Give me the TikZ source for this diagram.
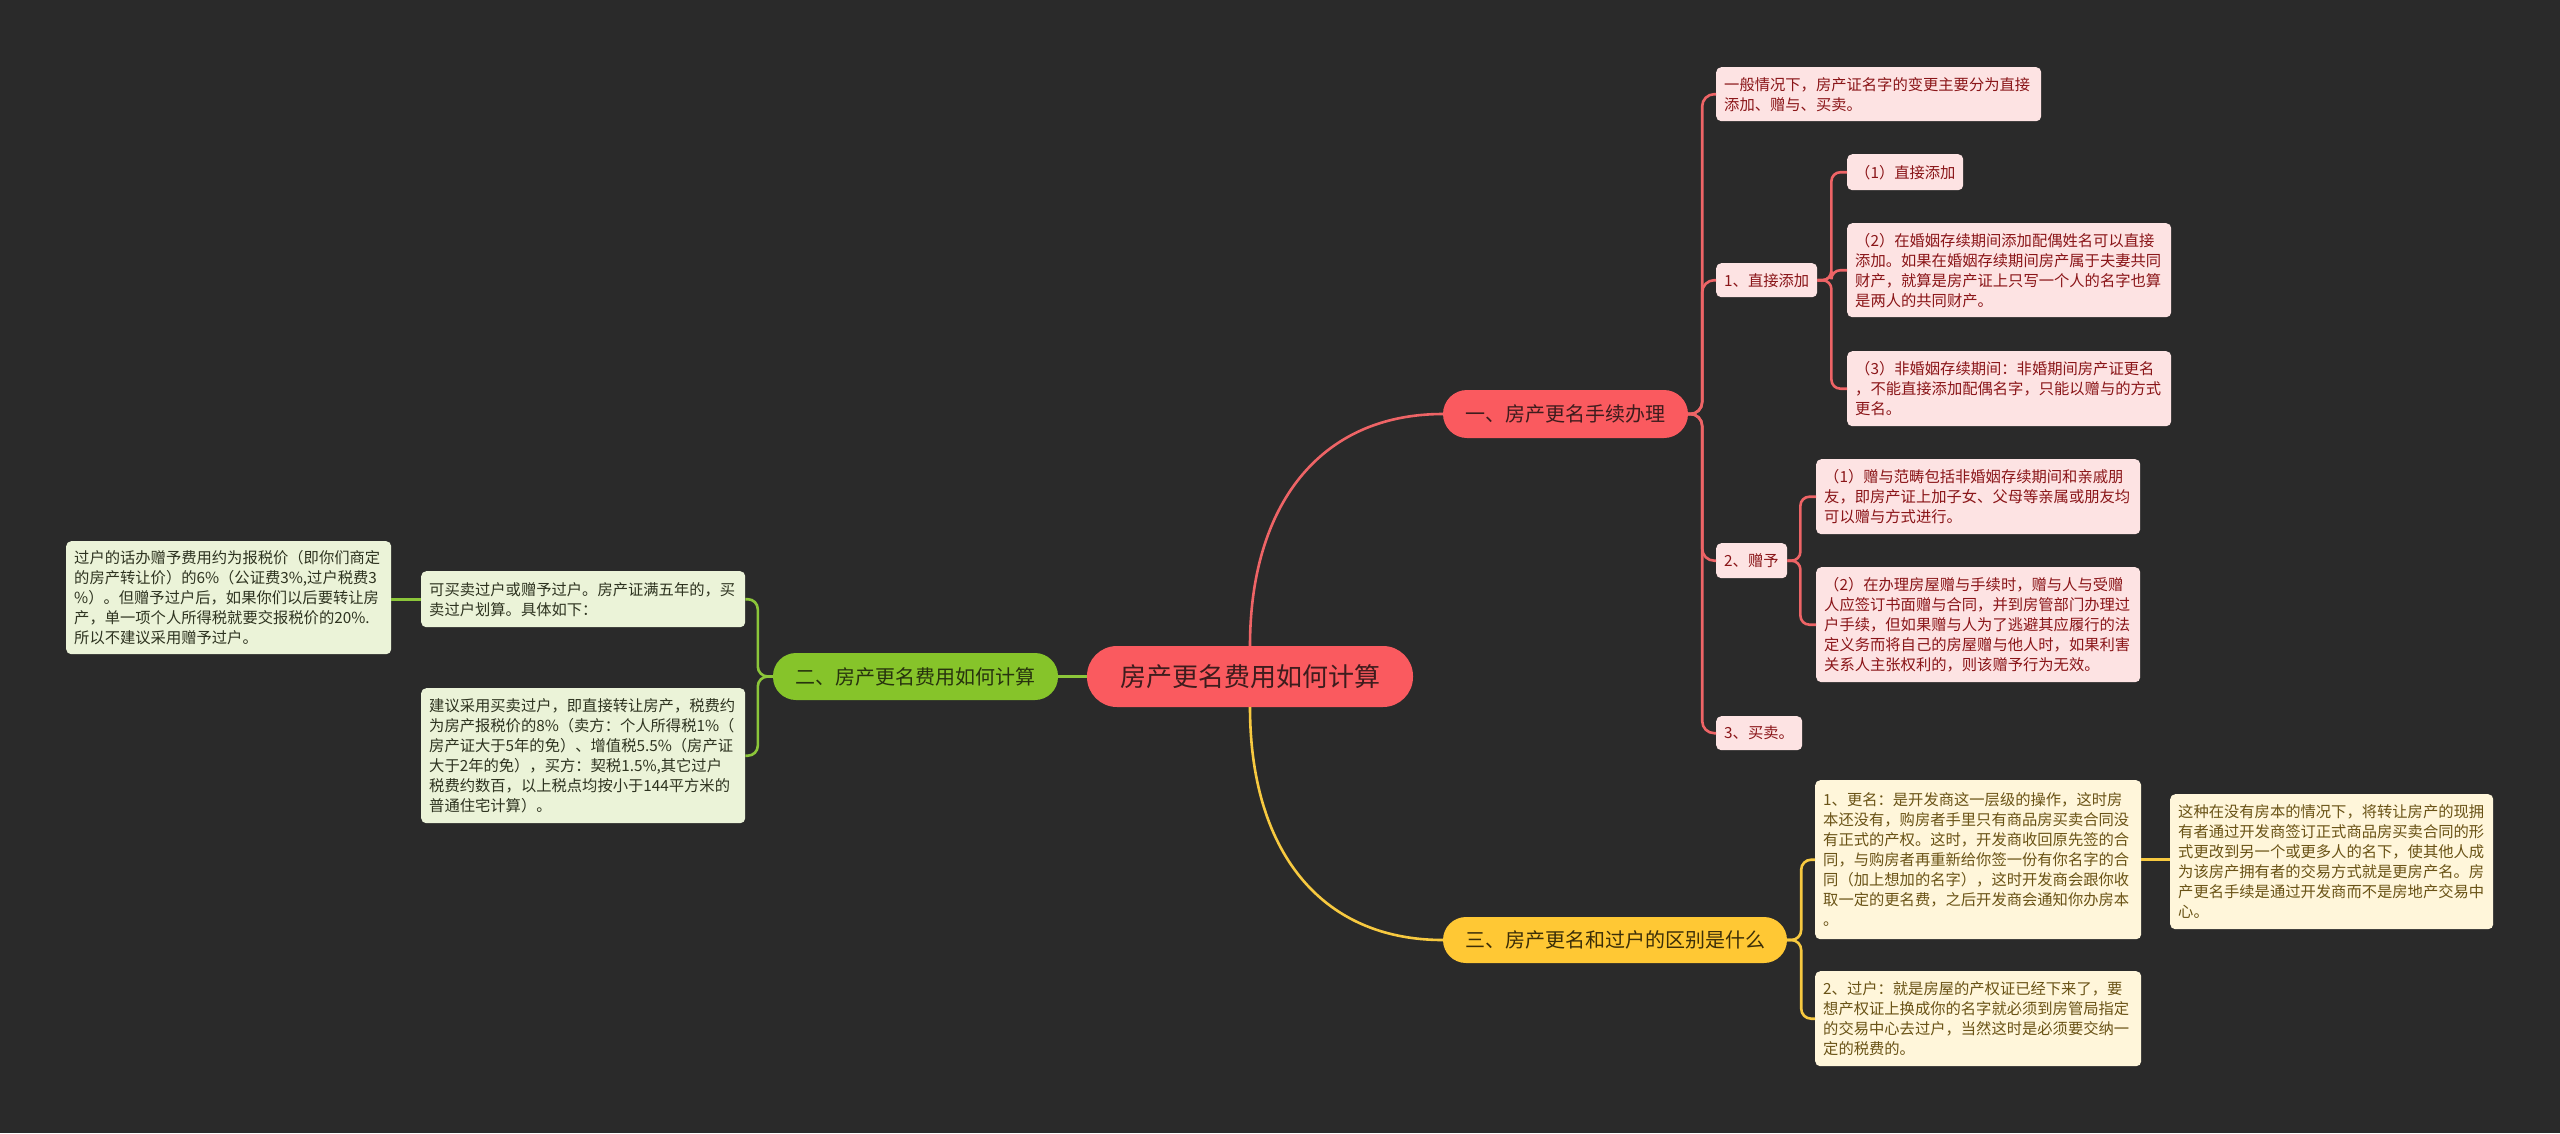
\documentclass[tikz,border=0pt]{standalone}
\usepackage{fontspec}
\newfontfamily\cjk{Noto Sans CJK SC}
\definecolor{bg}{HTML}{2A2A2A}
\definecolor{mainred}{HTML}{FA5A5F}
\definecolor{maingreen}{HTML}{86C42A}
\definecolor{mainyellow}{HTML}{FFC834}
\definecolor{linered}{HTML}{EE6466}
\definecolor{linegreen}{HTML}{8CC63A}
\definecolor{lineyellow}{HTML}{F7C940}
\definecolor{pinkfill}{HTML}{FDE3E3}
\definecolor{pinktext}{HTML}{8A1518}
\definecolor{greenfill}{HTML}{EBF3D8}
\definecolor{greentext}{HTML}{2E3320}
\definecolor{yellowfill}{HTML}{FFF6DA}
\definecolor{yellowtext}{HTML}{6A5316}
\definecolor{redmaintext}{HTML}{3E1C1D}
\definecolor{greenmaintext}{HTML}{27330E}
\definecolor{yellowmaintext}{HTML}{3B2E08}
\newcommand\subbox[7]{\node[#6, minimum width=#4pt, minimum height=#5pt, text width=#4pt-16pt] (#1) at (#2,#3) {#7};}
\begin{document}
\begin{tikzpicture}[x=1pt,y=-1pt,
  box/.style={anchor=north west, rounded corners=5pt, inner xsep=8pt, inner ysep=0pt, align=left, font=\cjk\fontsize{15.3}{20}\selectfont},
  rbox/.style={box, fill=pinkfill, text=pinktext},
  gbox/.style={box, fill=greenfill, text=greentext},
  ybox/.style={box, fill=yellowfill, text=yellowtext},
  mainnode/.style={inner sep=0pt, align=center, font=\cjk\fontsize{20}{24}\selectfont},
  redline/.style={draw=linered, line width=2.6pt, rounded corners=12pt},
  greenline/.style={draw=linegreen, line width=2.6pt, rounded corners=10pt},
  yellowline/.style={draw=lineyellow, line width=2.6pt, rounded corners=10pt}]
\useasboundingbox (0,0) rectangle (2560,1133);
\fill[bg] (0,0) rectangle (2560,1133);

% main nodes
\node[mainnode, fill=mainred, text=redmaintext, minimum width=326pt, minimum height=61pt, rounded corners=30pt, font=\cjk\fontsize{26}{30}\selectfont] (c) at (1250,676.5) {房产更名费用如何计算};
\node[mainnode, fill=mainred, text=redmaintext, minimum width=245pt, minimum height=48pt, rounded corners=24pt] (b1) at (1565.5,414) {一、房产更名手续办理};
\node[mainnode, fill=maingreen, text=greenmaintext, minimum width=285pt, minimum height=47pt, rounded corners=23pt] (b2) at (915.5,676.5) {二、房产更名费用如何计算};
\node[mainnode, fill=mainyellow, text=yellowmaintext, minimum width=344pt, minimum height=46pt, rounded corners=23pt] (b3) at (1615,940) {三、房产更名和过户的区别是什么};

% red sub nodes
\subbox{A}{1716}{67}{325}{54}{rbox}{一般情况下，房产证名字的变更主要分为直接\\添加、赠与、买卖。}
\subbox{B}{1716}{263}{101}{34}{rbox}{1、直接添加}
\subbox{B1}{1847}{154}{116}{36}{rbox}{（1）直接添加}
\subbox{B2}{1847}{223}{324}{94}{rbox}{（2）在婚姻存续期间添加配偶姓名可以直接\\添加。如果在婚姻存续期间房产属于夫妻共同\\财产，就算是房产证上只写一个人的名字也算\\是两人的共同财产。}
\subbox{B3}{1847}{351}{324}{75}{rbox}{（3）非婚姻存续期间：非婚期间房产证更名\\，不能直接添加配偶名字，只能以赠与的方式\\更名。}
\subbox{C}{1716}{543}{71}{35}{rbox}{2、赠予}
\subbox{C1}{1816}{459}{324}{75}{rbox}{（1）赠与范畴包括非婚姻存续期间和亲戚朋\\友，即房产证上加子女、父母等亲属或朋友均\\可以赠与方式进行。}
\subbox{C2}{1816}{567}{324}{115}{rbox}{（2）在办理房屋赠与手续时，赠与人与受赠\\人应签订书面赠与合同，并到房管部门办理过\\户手续，但如果赠与人为了逃避其应履行的法\\定义务而将自己的房屋赠与他人时，如果利害\\关系人主张权利的，则该赠予行为无效。}
\subbox{D}{1716}{716}{86}{34}{rbox}{3、买卖。}

% green sub nodes
\subbox{G1}{421}{571}{324}{56}{gbox}{可买卖过户或赠予过户。房产证满五年的，买\\卖过户划算。具体如下：}
\subbox{G1a}{66}{541}{325}{113}{gbox}{过户的话办赠予费用约为报税价（即你们商定\\的房产转让价）的6\%（公证费3\%,过户税费3\\\%）。但赠予过户后，如果你们以后要转让房\\产，单一项个人所得税就要交报税价的20\%.\\所以不建议采用赠予过户。}
\subbox{G2}{421}{688}{324}{135}{gbox}{建议采用买卖过户，即直接转让房产，税费约\\为房产报税价的8\%（卖方：个人所得税1\%（\\房产证大于5年的免）、增值税5.5\%（房产证\\大于2年的免），买方：契税1.5\%,其它过户\\税费约数百，以上税点均按小于144平方米的\\普通住宅计算）。}

% yellow sub nodes
\subbox{Y1}{1815}{780}{326}{159}{ybox}{1、更名：是开发商这一层级的操作，这时房\\本还没有，购房者手里只有商品房买卖合同没\\有正式的产权。这时，开发商收回原先签的合\\同，与购房者再重新给你签一份有你名字的合\\同（加上想加的名字），这时开发商会跟你收\\取一定的更名费，之后开发商会通知你办房本\\。}
\subbox{Y2}{1815}{971}{326}{95}{ybox}{2、过户：就是房屋的产权证已经下来了，要\\想产权证上换成你的名字就必须到房管局指定\\的交易中心去过户，当然这时是必须要交纳一\\定的税费的。}
\subbox{Y1a}{2170}{794}{323}{135}{ybox}{这种在没有房本的情况下，将转让房产的现拥\\有者通过开发商签订正式商品房买卖合同的形\\式更改到另一个或更多人的名下，使其他人成\\为该房产拥有者的交易方式就是更房产名。房\\产更名手续是通过开发商而不是房地产交易中\\心。}

% main connectors
\begin{scope}[on background layer/.style={}]
\end{scope}
\draw[draw=linered, line width=2.6pt] (c.north) .. controls (1250,505) and (1320,414) .. (b1.west);
\draw[draw=lineyellow, line width=2.6pt] (c.south) .. controls (1250,850) and (1320,940) .. (b3.west);
\draw[draw=linegreen, line width=2.6pt] (c.west) -- (b2.east);

% red bracket
\foreach \n in {A,B,C,D}{\draw[redline] (b1.east) -- ++(14,0) |- (\n.west);}
\foreach \n in {B1,B2,B3}{\draw[redline, rounded corners=9pt] (B.east) -- ++(14,0) |- (\n.west);}
\foreach \n in {C1,C2}{\draw[redline, rounded corners=9pt] (C.east) -- ++(13,0) |- (\n.west);}

% green bracket
\foreach \n in {G1,G2}{\draw[greenline] (b2.west) -- ++(-15,0) |- (\n.east);}
\draw[draw=linegreen, line width=2.6pt] (G1.west) -- (G1a.east |- G1.west);

% yellow bracket
\foreach \n in {Y1,Y2}{\draw[yellowline] (b3.east) -- ++(14,0) |- (\n.west);}
\draw[draw=lineyellow, line width=2.6pt] (Y1.east) -- (Y1a.west |- Y1.east);
\end{tikzpicture}
\end{document}
